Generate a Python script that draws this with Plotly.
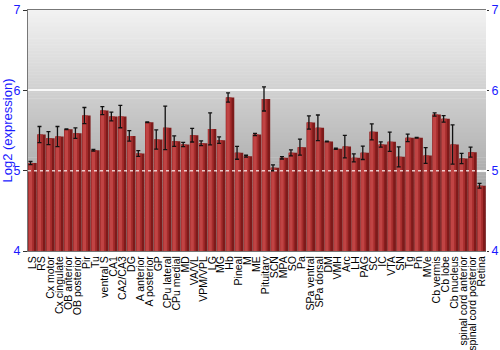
import plotly.graph_objects as go

regions = ["LS", "RS", "Cx motor", "Cx cingulate", "OB anterior", "OB posterior", "Pir", "Tu",
           "ventral S", "CA1", "CA2/CA3", "DG", "A anterior", "A posterior", "GP", "CPu lateral",
           "CPu medial", "MD", "VA/VL", "VPM/VPL", "LG", "MG", "Hb", "Pineal", "M", "ME",
           "Pituitary", "SCN", "MPA", "SO", "Pa", "SPa ventral", "SPa dorsal", "DM", "VMH", "Arc",
           "LH", "PAG", "SC", "IC", "VTA", "SN", "Tg", "Pn", "MVe", "Cb vermis", "Cb lobe",
           "Cb nucleus", "spinal cord anterior", "spinal cord posterior", "Retina"]

expression = [5.094, 5.45, 5.405, 5.425, 5.516, 5.467, 5.686, 5.255,
              5.748, 5.674, 5.674, 5.433, 5.214, 5.603, 5.388, 5.533,
              5.367, 5.326, 5.442, 5.342, 5.52, 5.38, 5.91, 5.222, 5.18, 5.45,
              5.893, 5.036, 5.16, 5.222, 5.293, 5.599, 5.533, 5.363, 5.272, 5.30,
              5.16, 5.222, 5.483, 5.326, 5.359, 5.172, 5.409, 5.409, 5.189, 5.699, 5.645,
              5.326, 5.152, 5.23, 4.812]

errors = [0.02, 0.1, 0.08, 0.125, 0.005, 0.065, 0.1, 0.01,
          0.05, 0.055, 0.14, 0.065, 0.035, 0.005, 0.12, 0.27,
          0.065, 0.027, 0.085, 0.03, 0.2, 0.04, 0.058, 0.08, 0.012, 0.015,
          0.15, 0.037, 0.015, 0.037, 0.1, 0.083, 0.16, 0.005, 0.008, 0.14,
          0.05, 0.083, 0.1, 0.033, 0.12, 0.125, 0.047, 0.005, 0.097, 0.02, 0.04,
          0.245, 0.064, 0.062, 0.03]

fig = go.Figure()

# layered bars to mimic the horizontal shading of each bar
fig.add_trace(go.Bar(x=regions, y=expression, width=0.94, offset=-0.47,
                     marker=dict(color="#7e1a1a", line=dict(width=0)), hoverinfo="skip"))
fig.add_trace(go.Bar(x=regions, y=expression, width=0.64, offset=-0.47,
                     marker=dict(color="#a52c2c", line=dict(width=0)), hoverinfo="skip"))
fig.add_trace(go.Bar(x=regions, y=expression, width=0.36, offset=-0.40,
                     marker=dict(color="#c04444", line=dict(width=0)),
                     error_y=dict(type="data", array=errors, visible=True,
                                  color="#111111", thickness=1.3, width=2)))

# gradient background
shapes = []
n = 160
for i in range(n):
    t = i / (n - 1)
    c = int(round(0xf2 + (0x8e - 0xf2) * t))
    shapes.append(dict(type="rect", xref="paper", yref="paper",
                       x0=0, x1=1, y0=1 - (i + 1) / n, y1=1 - i / n + 0.002,
                       fillcolor=f"rgb({c},{c},{c})", line=dict(width=0), layer="below"))
shapes.append(dict(type="line", xref="paper", yref="y", x0=0, x1=1, y0=5, y1=5,
                   line=dict(color="rgba(255,255,255,0.75)", width=1.5, dash="dot"),
                   layer="above"))
fig.update_layout(shapes=shapes)

fig.update_layout(
    width=500, height=350,
    margin=dict(l=28, r=14, t=10, b=99),
    paper_bgcolor="white", plot_bgcolor="rgba(0,0,0,0)",
    barmode="overlay", showlegend=False,
    font=dict(family="Liberation Sans, Arial, sans-serif"),
    xaxis=dict(tickangle=-90, tickfont=dict(size=10.5, color="black"),
               tickmode="array", tickvals=regions, ticktext=regions, automargin=False,
               showgrid=False, showline=True, linecolor="#777777", mirror=True,
               ticks="", range=[-0.5, len(regions) - 0.5]),
    yaxis=dict(range=[4, 7], dtick=1, tickfont=dict(size=12.5, color="#1a1aff"),
               title=dict(text="Log2 (expression)", font=dict(size=13, color="#1a1aff"),
                          standoff=4),
               showgrid=True, gridcolor="rgba(255,255,255,0.85)", gridwidth=2,
               showline=True, linecolor="#777777", ticks="outside", ticklen=4,
               tickcolor="#333333", zeroline=False, automargin=False),
    yaxis2=dict(range=[4, 7], dtick=1, overlaying="y", side="right",
                tickfont=dict(size=12.5, color="#1a1aff"), showgrid=False, automargin=False,
                ticks="outside", ticklen=2, tickcolor="#333333", showline=False),
)
fig.add_trace(go.Scatter(x=[regions[0]], y=[4], yaxis="y2", mode="markers",
                         marker=dict(opacity=0), hoverinfo="skip", showlegend=False))

fig.write_html("out.html")
